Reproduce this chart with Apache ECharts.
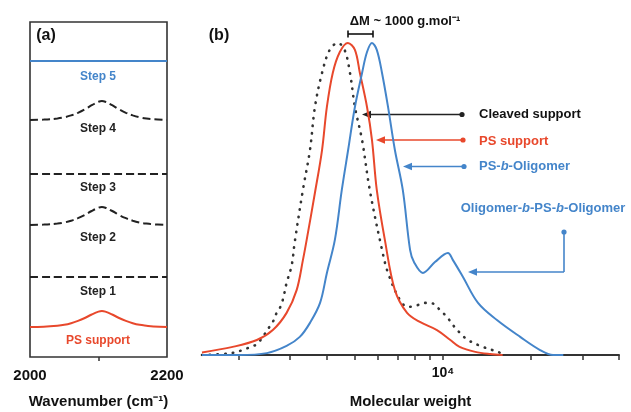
<!DOCTYPE html>
<html>
<head>
<meta charset="utf-8">
<script src="https://cdn.jsdelivr.net/npm/echarts@6/dist/echarts.min.js"></script>
<style>
html, body { margin: 0; padding: 0; background: #fff; }
#chart { width: 631px; height: 412px; }
</style>
</head>
<body>
<div id="chart"></div>
<script>
// (a) IR traces, each shifted up by its step offset
const wavenumber = [2000, 2020, 2040, 2050, 2060, 2070, 2080, 2090, 2100, 2105, 2110, 2120, 2130, 2140, 2150, 2160, 2170, 2180, 2200]
const irPS    = [0, 0.3, 1.3, 2.2, 3.8, 6.1, 9, 12.5, 15.4, 16, 15.4, 12.5, 9, 6.1, 3.8, 2.2, 1.3, 0.6, 0]
const irStep1 = [0, 0, 0, 0, 0, 0, 0, 0, 0, 0, 0, 0, 0, 0, 0, 0, 0, 0, 0]
const irStep2 = [0, 0.4, 1.4, 2.5, 4.3, 6.8, 10, 14, 17.3, 18, 17.3, 14, 10, 6.8, 4.3, 2.5, 1.4, 0.7, 0]
const irStep3 = [0, 0, 0, 0, 0, 0, 0, 0, 0, 0, 0, 0, 0, 0, 0, 0, 0, 0, 0]
const irStep4 = [0, 0.4, 1.5, 2.7, 4.6, 7.2, 10.6, 14.8, 18.2, 19, 18.2, 14.8, 10.6, 7.2, 4.6, 2.7, 1.5, 0.8, 0]
const irStep5 = [0, 0, 0, 0, 0, 0, 0, 0, 0, 0, 0, 0, 0, 0, 0, 0, 0, 0, 0]
const stepNames = ['PS support', 'Step 1', 'Step 2', 'Step 3', 'Step 4', 'Step 5']
const stepOffsets = [30, 80, 132, 183, 237, 296]

// (b) GPC traces, molecular weight vs normalised signal
const cleavedM = [1500, 1890, 2150, 2310, 2420, 2520, 2620, 2700, 2790, 2850, 2920, 3040, 3110, 3320, 3510, 3650, 3860, 4100, 4370, 4610, 4810, 5000, 5290, 5620, 6190, 6490, 7130, 7590, 8200, 8670, 9240, 9770, 10320, 10820, 11430, 12180, 13700, 15400, 16300]
const cleavedI = [0, 0.006, 0.022, 0.035, 0.058, 0.083, 0.106, 0.135, 0.157, 0.186, 0.231, 0.288, 0.359, 0.529, 0.657, 0.795, 0.904, 0.978, 1.0, 0.978, 0.904, 0.795, 0.689, 0.529, 0.337, 0.263, 0.176, 0.154, 0.16, 0.167, 0.165, 0.144, 0.122, 0.096, 0.071, 0.048, 0.026, 0.010, 0]
const psM = [1500, 1910, 2310, 2620, 2920, 3160, 3320, 3420, 3650, 3860, 4010, 4200, 4440, 4730, 5000, 5200, 5500, 5720, 5940, 6330, 6850, 7540, 8340, 9540, 10600, 11400, 12900, 14500, 16000]
const psI = [0.008, 0.026, 0.048, 0.080, 0.135, 0.208, 0.304, 0.369, 0.52, 0.657, 0.795, 0.904, 0.971, 1.0, 0.978, 0.904, 0.795, 0.689, 0.529, 0.369, 0.208, 0.135, 0.106, 0.080, 0.048, 0.026, 0.010, 0.003, 0]
const oligoM = [1500, 2000, 2500, 2920, 3240, 3510, 3800, 4010, 4270, 4510, 4740, 5000, 5290, 5500, 5720, 5940, 6190, 6490, 6850, 7290, 7720, 7960, 8540, 9390, 10400, 10820, 11710, 13180, 15300, 18370, 21480, 23800, 25800]
const oligoI = [0, 0, 0.006, 0.029, 0.058, 0.103, 0.167, 0.263, 0.369, 0.529, 0.657, 0.795, 0.904, 0.971, 1.0, 0.978, 0.904, 0.795, 0.657, 0.529, 0.337, 0.298, 0.263, 0.298, 0.327, 0.304, 0.250, 0.167, 0.112, 0.058, 0.016, 0, 0]
const mwTicks = [2000, 3000, 4000, 5000, 6000, 7000, 8000, 9000, 10000, 20000, 30000, 40000]
const mwLabels = [10000]
const irLabels = [2000, 2200]
const irTicks = [2100]

const RED = '#e8482c'
const BLUE = '#4485ca'
const DARK = '#222'
const FONT = 'Liberation Sans, Arial, sans-serif'

const chart = echarts.init(document.getElementById('chart'))

const irTraces = [irPS, irStep1, irStep2, irStep3, irStep4, irStep5]
const irSeries = irTraces.map((tr, i) => {
  let color = DARK, type = 'dashed'
  if (i === 0) { color = RED; type = 'solid' }
  if (i === 5) { color = BLUE; type = 'solid' }
  return {
    name: stepNames[i],
    type: 'line',
    xAxisIndex: 0,
    yAxisIndex: 0,
    showSymbol: false,
    smooth: 0.4,
    data: wavenumber.map((w, j) => [w, tr[j] + stepOffsets[i]]),
    lineStyle: { color: color, width: 2, type: type }
  }
})

const log = (m) => Math.log10(m)
const sup = { 0: '⁰', 1: '¹', 2: '²', 3: '³', 4: '⁴', 5: '⁵' }

function gpc (name, ms, is, style) {
  return {
    name: name,
    type: 'line',
    xAxisIndex: 1,
    yAxisIndex: 1,
    showSymbol: false,
    smooth: 0.35,
    data: ms.map((m, j) => [log(m), is[j]]),
    lineStyle: style
  }
}

// label positions in panel (a), pixel layout
const stepLabelY = [341, 292, 238, 188, 129, 77]
const stepLabelColor = [RED, DARK, DARK, DARK, DARK, BLUE]

function txt (x, y, text, color, size, align, rich) {
  return {
    type: 'text', x: x, y: y, silent: true,
    style: { text: text, fill: color, font: 'bold ' + size + 'px ' + FONT, align: align || 'center', verticalAlign: 'middle', rich: rich }
  }
}
function seg (x1, y1, x2, y2, color) {
  return { type: 'line', silent: true, shape: { x1, y1, x2, y2 }, style: { stroke: color, lineWidth: 1.6 } }
}
function dot (x, y, color) {
  return { type: 'circle', silent: true, shape: { cx: x, cy: y, r: 2.6 }, style: { fill: color } }
}
function headLeft (x, y, color) {
  return { type: 'polygon', silent: true, shape: { points: [[x, y], [x + 9, y - 3.8], [x + 9, y + 3.8]] }, style: { fill: color } }
}

const italicRich = (color) => ({
  n: { fill: color, font: 'bold 13px ' + FONT },
  i: { fill: color, font: 'italic bold 13px ' + FONT }
})

const graphic = [
  txt(46, 36, '(a)', '#111', 16),
  txt(219, 36, '(b)', '#111', 16),
  txt(405, 21, 'ΔM ~ 1000 g.mol⁻¹', '#111', 13),
  seg(348, 34, 373, 34, '#111'),
  seg(348, 30.5, 348, 37.5, '#111'),
  seg(373, 30.5, 373, 37.5, '#111'),
  // cleaved support
  seg(462, 114.5, 368, 114.5, DARK), dot(462, 114.5, DARK), headLeft(362, 114.5, DARK),
  txt(479, 114, 'Cleaved support', '#111', 13, 'left'),
  // PS support
  seg(463, 140, 382, 140, RED), dot(463, 140, RED), headLeft(376, 140, RED),
  txt(479, 141, 'PS support', RED, 13, 'left'),
  // PS-b-Oligomer
  seg(464, 166.5, 408, 166.5, BLUE), dot(464, 166.5, BLUE), headLeft(403, 166.5, BLUE),
  txt(479, 166, '{n|PS-}{i|b}{n|-Oligomer}', BLUE, 13, 'left', italicRich(BLUE)),
  // Oligomer-b-PS-b-Oligomer
  txt(543, 208, '{n|Oligomer-}{i|b}{n|-PS-}{i|b}{n|-Oligomer}', BLUE, 13, 'center', italicRich(BLUE)),
  dot(564, 232, BLUE),
  seg(564, 232, 564, 272, BLUE),
  seg(564, 272, 474, 272, BLUE),
  headLeft(468, 272, BLUE)
]
stepNames.forEach((n, i) => {
  graphic.push(txt(98, stepLabelY[i], n, stepLabelColor[i], 12))
})

chart.setOption({
  animation: false,
  textStyle: { fontFamily: FONT },
  grid: [
    { left: 30, top: 22, width: 137, height: 335, show: true, borderColor: '#333', borderWidth: 1.6, containLabel: false, outerBoundsMode: 'none' },
    { left: 202, top: 27.4, right: 12, height: 327.6, containLabel: false, outerBoundsMode: 'none' }
  ],
  xAxis: [
    {
      type: 'value',
      gridIndex: 0,
      min: 2000,
      max: 2200,
      axisLine: { show: false },
      axisTick: { show: true, customValues: irTicks, length: 4, lineStyle: { color: '#333', width: 1.5 } },
      axisLabel: { customValues: irLabels, fontSize: 15, fontWeight: 'bold', color: '#111', margin: 11, formatter: (v) => String(v) },
      splitLine: { show: false },
      name: 'Wavenumber (cm⁻¹)',
      nameLocation: 'middle',
      nameGap: 37,
      nameTextStyle: { fontSize: 15, fontWeight: 'bold', color: '#111' }
    },
    {
      type: 'value',
      gridIndex: 1,
      min: log(1500),
      max: log(40000),
      axisLine: { lineStyle: { color: '#333', width: 2 } },
      axisTick: { show: true, customValues: mwTicks.map(log), length: 5, lineStyle: { color: '#333', width: 1.5 } },
      axisLabel: {
        customValues: mwLabels.map(log),
        fontSize: 14,
        fontWeight: 'bold',
        color: '#111',
        margin: 11,
        formatter: (v) => '10' + sup[Math.round(v)]
      },
      splitLine: { show: false },
      name: 'Molecular weight',
      nameLocation: 'middle',
      nameGap: 39,
      nameTextStyle: { fontSize: 15, fontWeight: 'bold', color: '#111' }
    }
  ],
  yAxis: [
    { type: 'value', gridIndex: 0, min: 0, max: 335, show: false },
    { type: 'value', gridIndex: 1, min: 0, max: 1.05, show: false }
  ],
  series: irSeries.concat([
    gpc('Cleaved support', cleavedM, cleavedI, { color: '#333', width: 2.6, type: [0.5, 7.2], cap: 'round' }),
    gpc('PS support', psM, psI, { color: RED, width: 2 }),
    gpc('PS-b-Oligomer', oligoM, oligoI, { color: BLUE, width: 2 })
  ]),
  graphic: graphic
})
</script>
</body>
</html>
